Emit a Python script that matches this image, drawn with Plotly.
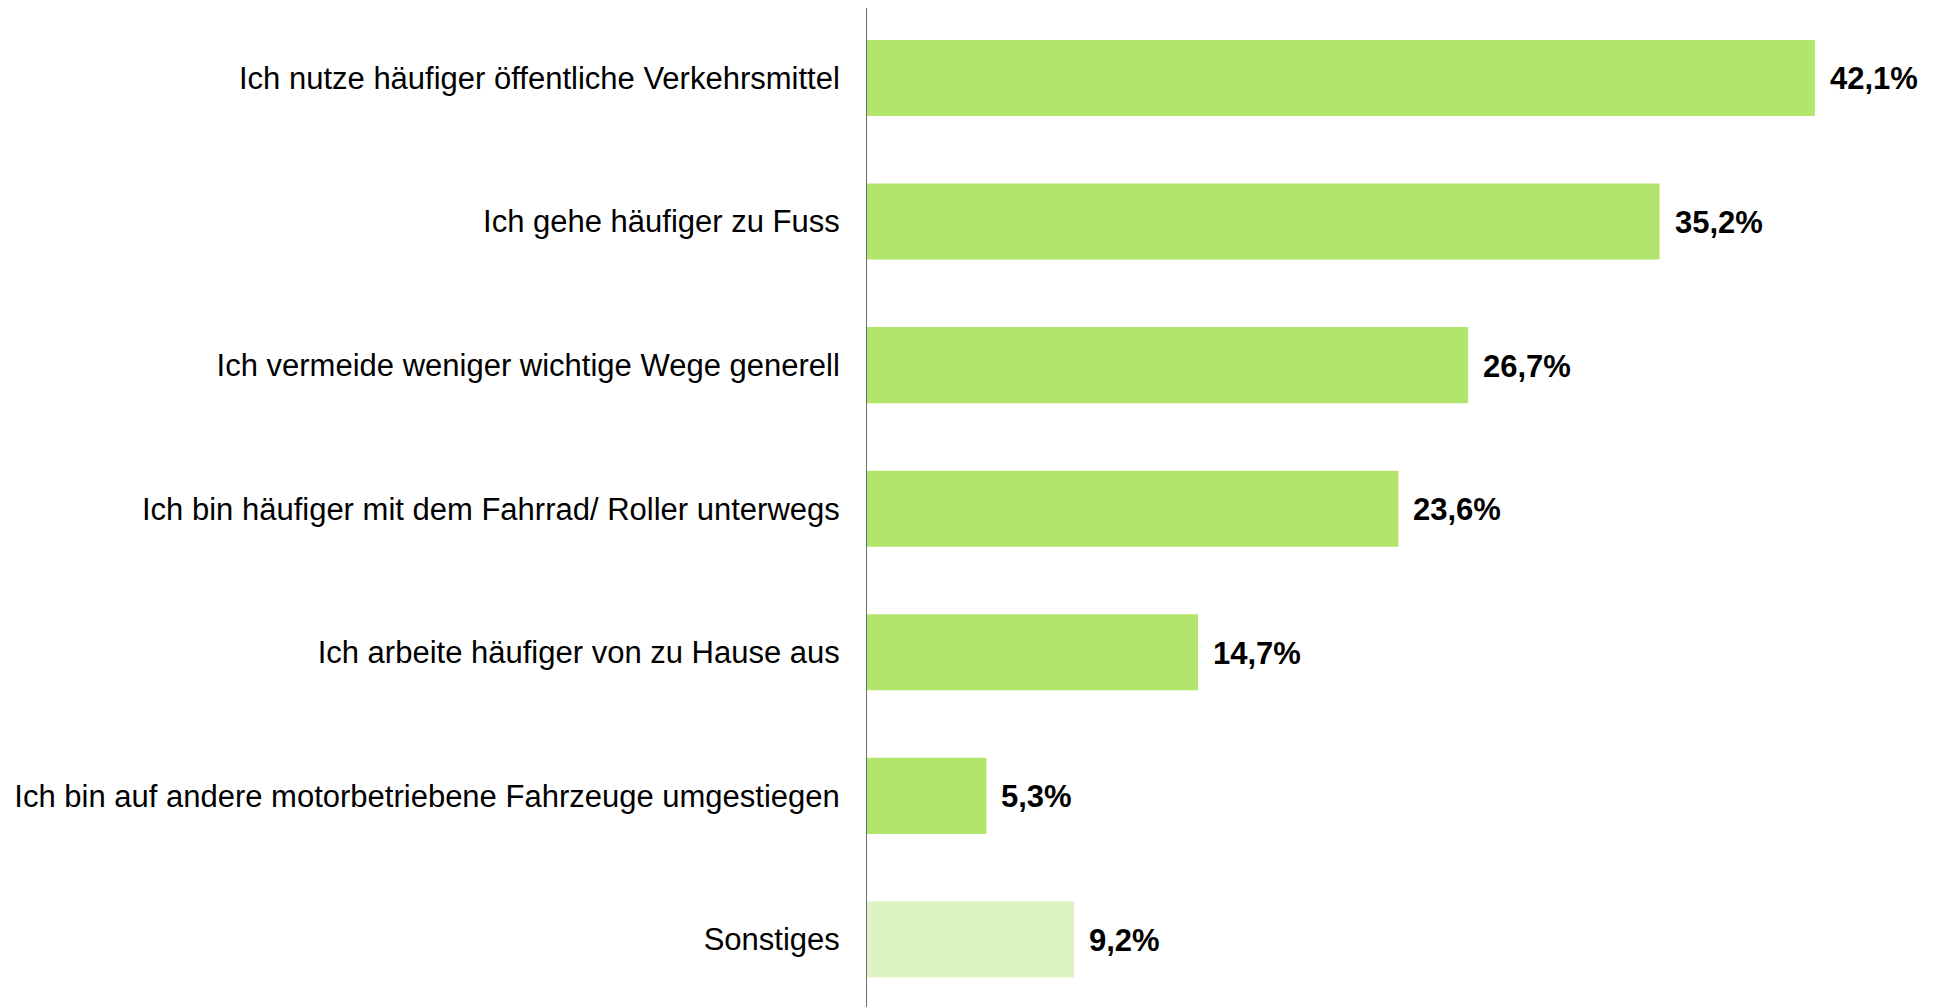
import plotly.graph_objects as go

categories = [
    "Ich nutze häufiger öffentliche Verkehrsmittel",
    "Ich gehe häufiger zu Fuss",
    "Ich vermeide weniger wichtige Wege generell",
    "Ich bin häufiger mit dem Fahrrad/ Roller unterwegs",
    "Ich arbeite häufiger von zu Hause aus",
    "Ich bin auf andere motorbetriebene Fahrzeuge umgestiegen",
    "Sonstiges",
]
values = [42.1, 35.2, 26.7, 23.6, 14.7, 5.3, 9.2]
value_labels = ["42,1%", "35,2%", "26,7%", "23,6%", "14,7%", "5,3%", "9,2%"]
colors = ["#b2e56b"] * 6 + ["#ddf4c2"]

FONT = "Liberation Sans, Arial, sans-serif"

fig = go.Figure(
    go.Bar(
        x=values,
        y=categories,
        orientation="h",
        marker=dict(color=colors, line=dict(width=0)),
        width=0.53,
        hoverinfo="skip",
    )
)

for c, v, t in zip(categories, values, value_labels):
    fig.add_annotation(
        x=v, y=c, text=f"<b>{t}</b>", showarrow=False,
        xanchor="left", yanchor="middle", xshift=13, yshift=-1,
        font=dict(family=FONT, size=31, color="#000000"),
    )

fig.update_layout(
    width=1926, height=999,
    margin=dict(l=859, r=0, t=0, b=0),
    paper_bgcolor="white", plot_bgcolor="white",
    showlegend=False,
    font=dict(family=FONT, size=31, color="#000000"),
)
fig.update_xaxes(range=[0, 47.39], visible=False, fixedrange=True)
fig.update_yaxes(
    type="category",
    categoryorder="array", categoryarray=categories,
    range=[6.47, -0.487],
    showline=True, linecolor="#6e6e6e", linewidth=1,
    showgrid=False, zeroline=False,
    ticks="", ticklabelstandoff=20,
    tickfont=dict(family=FONT, size=31, color="#000000"),
    fixedrange=True,
)

fig.write_html("out.html")
